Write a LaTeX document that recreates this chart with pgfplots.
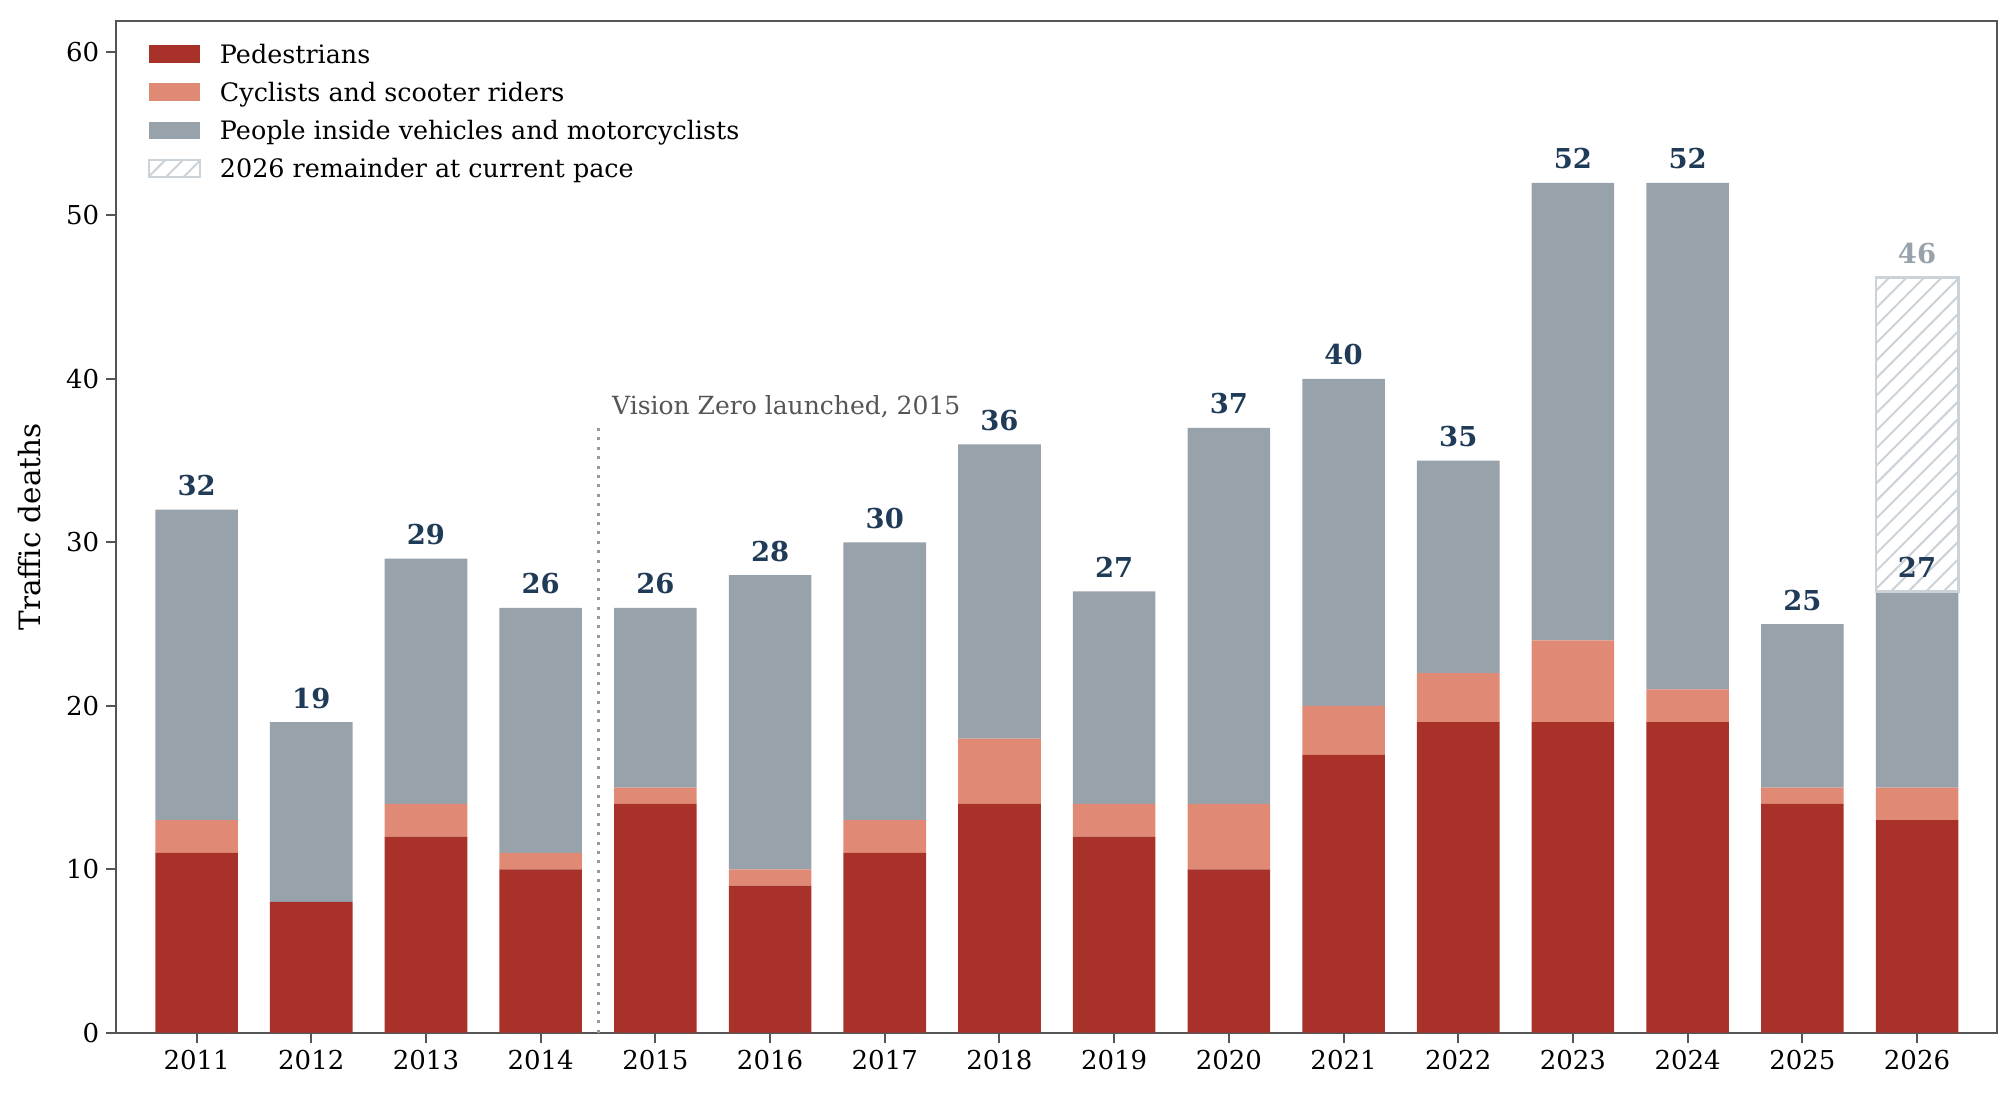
\documentclass[border=0pt]{standalone}
\usepackage{fontspec}
\setmainfont{DejaVu Serif}
\usepackage{pgfplots}
\pgfplotsset{compat=1.18}
\usetikzlibrary{patterns.meta}
\definecolor{ped}{HTML}{A8312A}
\definecolor{cyc}{HTML}{E08A76}
\definecolor{veh}{HTML}{98A2AB}
\definecolor{hatchc}{HTML}{CBD2D8}
\definecolor{spine}{HTML}{555555}
\definecolor{navy}{HTML}{1F3B57}
\definecolor{annot}{HTML}{555555}
\definecolor{vlinec}{HTML}{999999}
\pgfplotsset{
  basefr/.style={
    at={(0,0)}, anchor=south west, scale only axis,
    width=940.5pt, height=505.85pt,
    xmin=2010.3, xmax=2026.7, ymin=0, ymax=61.9,
    bar width=0.72,
    /pgf/number format/assume math mode=true,
  },
  sw/.style={legend image code/.code={\path[##1] (0pt,-4.4pt) rectangle (25.5pt,4.4pt);}},
}
\begin{document}
\begin{tikzpicture}
\begin{axis}[basefr, ybar stacked,
  axis line style={draw=spine, line width=1pt},
  every tick/.style={draw=spine, line width=1pt},
  major tick length=5pt, tick align=outside,
  xtick pos=bottom, ytick pos=left,
  xtick={2011,2012,2013,2014,2015,2016,2017,2018,2019,2020,2021,2022,2023,2024,2025,2026},
  xticklabels={2011,2012,2013,2014,2015,2016,2017,2018,2019,2020,2021,2022,2023,2024,2025,2026},
  ytick={0,10,20,30,40,50,60},
  tick label style={font=\fontsize{13}{15.6}\selectfont},
  ylabel={Traffic deaths},
  ylabel style={at={(axis description cs:-0.0459,0.5)}, anchor=center, font=\fontsize{14.7}{17.6}\selectfont},
  legend cell align=left,
  legend style={at={(axis description cs:0.01685,0.9794)}, anchor=north west,
    draw=none, fill=none, inner sep=0pt, outer sep=0pt, row sep=7pt,
    font=\fontsize{12.7}{15.2}\selectfont,
    nodes={inner sep=0pt, outer sep=0pt},
    /tikz/every odd column/.append style={column sep=9.5pt},
    /tikz/every even column/.append style={text height=10.6pt, text depth=1.4pt}},
]
\addplot[fill=ped, draw=none, sw]
  coordinates {(2011,11) (2012,8) (2013,12) (2014,10) (2015,14) (2016,9) (2017,11) (2018,14)
               (2019,12) (2020,10) (2021,17) (2022,19) (2023,19) (2024,19) (2025,14) (2026,13)};
\addlegendentry{Pedestrians}
\addplot[fill=cyc, draw=none, sw]
  coordinates {(2011,2) (2012,0) (2013,2) (2014,1) (2015,1) (2016,1) (2017,2) (2018,4)
               (2019,2) (2020,4) (2021,3) (2022,3) (2023,5) (2024,2) (2025,1) (2026,2)};
\addlegendentry{Cyclists and scooter riders}
\addplot[fill=veh, draw=none, sw]
  coordinates {(2011,19) (2012,11) (2013,15) (2014,15) (2015,11) (2016,18) (2017,17) (2018,18)
               (2019,13) (2020,23) (2021,20) (2022,13) (2023,28) (2024,31) (2025,10) (2026,12)};
\addlegendentry{People inside vehicles and motorcyclists}
\addlegendimage{draw=hatchc, line width=1.1pt, pattern={Lines[angle=45, distance=6.2pt, line width=1pt]}, pattern color=hatchc, sw}
\addlegendentry{2026 remainder at current pace}
\draw[vlinec, line width=1.5pt, dash pattern=on 1.5pt off 3.2pt] (axis cs:2014.5,0) -- (axis cs:2014.5,37);
\node[anchor=base west, inner sep=0pt, text=annot, font=\fontsize{12.5}{15}\selectfont] at (axis cs:2014.62,37.8) {Vision Zero launched, 2015};
\end{axis}
\begin{axis}[basefr, ybar stacked, hide axis]
\addplot[fill=none, draw=none] coordinates {(2026,27)};
\addplot[draw=hatchc, line width=1.2pt, pattern={Lines[angle=45, distance=6.2pt, line width=1pt]}, pattern color=hatchc]
  coordinates {(2026,19.2)};
\end{axis}
\begin{axis}[basefr, ybar, bar shift=0pt, hide axis,
  nodes near coords, point meta=explicit symbolic,
  nodes near coords style={anchor=base, yshift=7pt, inner sep=0pt,
    font=\fontsize{13.7}{16.4}\selectfont\bfseries},
]
\addplot[fill=none, draw=none, nodes near coords style={text=navy}]
  coordinates {(2011,32) [32] (2012,19) [19] (2013,29) [29] (2014,26) [26] (2015,26) [26]
               (2016,28) [28] (2017,30) [30] (2018,36) [36] (2019,27) [27] (2020,37) [37]
               (2021,40) [40] (2022,35) [35] (2023,52) [52] (2024,52) [52] (2025,25) [25]
               (2026,27) [27]};
\addplot[fill=none, draw=none, nodes near coords style={text=veh}]
  coordinates {(2026,46.2) [46]};
\end{axis}
\pgfresetboundingbox
\path (-58.15pt,-32.15pt) rectangle (949.85pt,516.35pt);
\end{tikzpicture}
\end{document}
